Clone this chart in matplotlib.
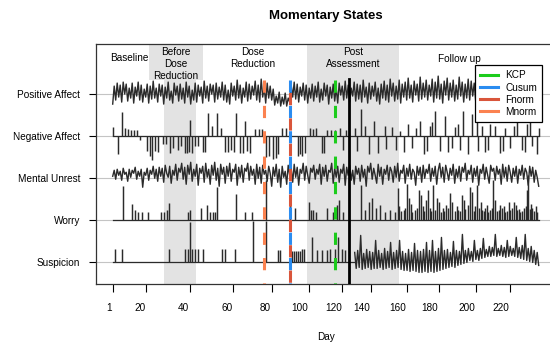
import numpy as np
import matplotlib.pyplot as plt
from matplotlib.lines import Line2D
from matplotlib.patches import Rectangle

plt.rcParams['font.family'] = ['Liberation Sans', 'DejaVu Sans']

##################################################################################################
#                    DATA
##################################################################################################

row_names = ['Positive Affect', 'Negative Affect', 'Mental Unrest', 'Worry', 'Suspicion']
row_pos = [5, 4, 3, 2, 1]

# x axis is the observation number; ticks mark the first observation of some days
day_labels = ['1', '20', '40', '60', '80', '100', '120', '140', '160', '180', '200', '220']
day_tick_obs = [1, 34.6, 78, 121.3, 160, 197, 230.6, 259.3, 295, 327, 364.6, 398.6]
day_label_obs = [-2.4, 28.3, 71.6, 115, 153.3, 188.3, 221.6, 250, 285.6, 317.6, 355.6, 389]
n_obs = 427

phase_names = ['Baseline', 'Before\nDose\nReduction', 'Dose\nReduction', 'Post\nAssessment', 'Follow up']
phase_obs = [17.3, 64.3, 141.3, 241.3, 347.3]
before_dose = (52.3, 84.3)
post_assessment = (195.6, 287.3)

method_names = ['KCP', 'Cusum', 'Fnorm', 'Mnorm']
method_obs = [223.3, 178.3, 178.3, 152.3]
method_colors = ['#1ccc1c', '#2a8cf0', '#d9553b', '#fb8250']
true_change_obs = 237.6

# dense series, deviation from the row line
positive_affect = [
    -10, 8, -6, 11, -3, 9, -8, 12, 0, 10, -7, 6, -4, 11, -9,
    7, -2, 12, -6, 9, -8, 5, -3, 10, -9, 8, -5, 13, -4, 6,
    -8, 10, -2, 9, -10, 7, -4, 12, -6, 3, -9, 11, -1, 8, -7,
    10, -5, 6, -9, 12, -3, 8, -10, 4, -6, 11, -8, 9, -2, 7,
    -9, 13, -4, 8, -7, 10, 0, 9, -8, 11, -5, 7, -3, 12, -6,
    9, -8, 4, -10, 11, -2, 8, -6, 14, -4, 9, -9, 6, -3, 12,
    -7, 10, -5, 8, -1, 13, -6, 9, -8, 15, -3, 7, -9, 11, -4,
    8, -6, 5, -11, -2, -9, 2, -12, -3, -10, 1, -12, -4, -8, 9,
    -3, 12, -5, 10, -8, 7, -2, 11, -6, 9, -9, 6, -4, 10, -7,
    8, -3, 12, -8, 5, -6, 11, -2, 9, -10, 7, -4, 10, -7, 6,
    -9, 11, -1, 8, -6, 13, -4, 9, -8, 6, -2, 12, -7, 10, -5,
    9, -8, 14, -3, 7, -9, 11, -5, 8, -2, 12, -7, 6, -10, 10,
    -4, 13, -6, 9, -8, 15, -2, 11, -7, 8, -5, 14, -9, 10, -3,
    12, -6, 16, -4, 9, -8, 13, -1, 10, -7, 17, -5, 11, -3, 14,
    -6, 9, -2, 15, -8, 12, -4, 18, -5, 10, -9, 13, -1, 16, -6,
    11, -3, 14, -7, 9, -5, 17, -2, 12, -8, 10, -4, 15, -6, 13,
    -2, 11, -7, 16, -4, 9, -8, 13, -3, 15, -6, 10, -1, 14, -5,
    12, -7, 9, -3, 15, -8, 11, -2, 13, -6, 10, -4, 16, -9, 8,
    -3, 12, -6, 14, -1, 10, -8, 13, -4, 11, -7, 9, -2, 12, -5]

mental_unrest = [
    2, 8, -1, 9, 3, 7, -2, 10, 4, 6, -3, 9, 1, 8, 5,
    11, -1, 7, 2, 9, -9, 6, 3, 10, -2, 8, 4, 12, 0, 9,
    -3, 11, 2, 10, -4, 13, 5, 1, 12, -5, 8, 3, 14, -2, 10,
    6, 15, -1, 11, -6, 13, 4, 16, -3, 9, 2, 14, -7, 10, 5,
    12, -4, 15, 1, 9, -6, 13, 3, 16, -2, 10, -8, 14, 4, 11,
    -5, 12, 2, 15, -3, 9, 6, 14, -7, 11, 1, 13, -4, 10, 7,
    15, -2, 12, 3, 9, -6, 14, 0, 11, -5, 13, 4, 8, -3, 12,
    5, -8, 11, 2, 14, -4, 9, -9, 12, 1, 7, -6, 13, 3, 10,
    -4, 14, 1, 11, -7, 9, 5, 15, -2, 12, 3, -5, 10, 6, 13,
    -1, 9, 4, 14, -6, 11, 2, 13, -3, 8, 6, 15, -5, 10, 1,
    12, -4, 9, 5, 14, -7, 11, 3, 13, -2, 8, -6, 12, 4, 10,
    -3, 13, 1, 9, -8, 12, 6, 15, -1, 10, 3, -5, 14, 2, 11,
    -6, 9, 4, 13, -2, 11, 7, -4, 12, 1, 15, -3, 8, 5, 13,
    -5, 10, 2, 14, -1, 9, 6, -7, 12, 3, 11, -4, 13, 0, 9,
    5, 14, -3, 10, 2, 12, -6, 8, 15, 1, 11, -4, 13, 6, -2,
    10, 3, 14, -5, 9, 1, 12, -3, 11, 6, 15, -2, 8, 4, 13,
    -4, 10, 2, 12, -7, 9, 5, 14, -1, 11, 3, -5, 13, 7, 10,
    -2, 12, 4, 9, -6, 14, 1, 11, -3, 13, 6, -4, 10, 2, 12,
    -5, 9, 3, 13, -1, 10, 6, -7, 12, 2, 11, -4, 8, 1, -8]

# sparse series: (observation, deviation)
negative_affect = [
    (1, 9), (6, -18), (10, 24), (13, 8), (16, 7), (19, 6), (22, 6), (25, 6), (28, -4),
    (35, -15), (38, -20), (40, -24), (43, -15), (46, -16), (51, -8), (54, -8),
    (58, -17), (61, -12), (66, -14), (69, -10), (73, -17), (75, -17), (77, -16), (78, 16),
    (80, -17), (83, -10), (86, -10), (91, -16), (93, -16), (96, 23), (100, 10), (105, 23),
    (109, 8), (113, -16), (116, -16), (119, -14), (122, -16), (124, 23), (128, -17),
    (131, -17), (133, 15), (135, -15), (138, -17), (143, 7), (147, 7), (150, 7), (154, -21),
    (157, -20), (161, -23), (164, -22), (166, -18), (170, 8), (174, 8), (186, -20),
    (188, -18), (190, -20), (193, -17), (198, 8), (201, 7), (204, 8), (210, -17), (212, -17),
    (215, 6), (219, 6), (223, 6), (228, 8), (231, -14), (234, 6), (243, 8), (245, -15),
    (249, 27), (253, 10), (257, -18), (262, 15), (266, -17), (273, 10), (274, -13), (280, 9),
    (284, -14), (288, 5), (292, -16), (296, 12), (300, -12), (304, 8), (308, 15), (312, -18),
    (315, -15), (318, 10), (320, 14), (323, 25), (328, -15), (333, 20), (336, -16), (340, -12),
    (343, 9), (346, 12), (348, -14), (351, 25), (356, -18), (360, 22), (365, 15), (366, -15),
    (370, 10), (373, -16), (376, -14), (378, 12), (383, 10), (388, -17), (391, -15), (393, 8),
    (398, -12), (402, 10), (405, 22), (410, -14), (413, -16), (415, 12), (418, 15), (420, -10),
    (425, -18), (427, 8)]

worry = [
    (11, 34), (20, 16), (23, 10), (26, 8), (30, 8), (36, 8), (49, 8), (52, 8), (55, 10),
    (57, 17), (76, 8), (78, 10), (89, 12), (95, 15), (98, 8), (101, 8), (103, 8), (105, 33),
    (124, 26), (133, 8), (140, 8), (154, 40), (178, 15), (183, 12), (197, 18), (199, 10),
    (201, 10), (204, 8), (215, 12), (221, 8), (225, 15), (227, 20), (231, 8), (249, 35),
    (253, 10), (257, 18), (260, 22), (264, 12), (268, 15), (273, 8), (278, 10), (283, 8),
    (286, 32), (287, 14), (289, 9), (292, 10), (293, 12), (295, 36), (297, 22), (299, 16),
    (300, 8), (303, 10), (305, 12), (307, 30), (309, 25), (311, 14), (312, 9), (314, 20),
    (316, 30), (318, 12), (319, 9), (321, 35), (323, 10), (325, 22), (327, 18), (329, 8),
    (331, 12), (332, 9), (334, 15), (336, 12), (338, 27), (340, 18), (343, 9), (345, 14),
    (346, 10), (348, 9), (350, 25), (352, 20), (353, 11), (356, 15), (358, 33), (360, 28),
    (362, 9), (363, 14), (365, 35), (367, 12), (369, 18), (370, 10), (372, 9), (373, 12),
    (375, 15), (376, 8), (378, 10), (380, 12), (381, 40), (383, 20), (385, 9), (387, 10),
    (388, 15), (390, 12), (392, 14), (393, 8), (395, 9), (397, 18), (398, 10), (400, 12),
    (402, 18), (404, 15), (405, 10), (407, 11), (408, 8), (410, 9), (412, 12), (414, 14),
    (415, 30), (416, 45), (418, 11), (419, 16), (420, 12), (422, 9), (424, 14), (425, 8)]

suspicion = [
    (3, 13), (10, 13), (57, 13), (73, 13), (76, 13), (78, 40), (80, 13), (83, 13), (86, 13),
    (91, 13), (110, 13), (113, 13), (123, 13), (141, 41), (154, 41), (166, 12), (168, 12),
    (180, 11), (182, 11), (184, 11), (186, 11), (188, 11), (190, 13), (192, 13), (200, 25),
    (205, 12), (210, 12), (215, 12), (218, 13), (223, 13), (226, 25), (230, 13), (233, 12)]

# dense stretch of suspicion, obs 243 to 427
suspicion_late = [
    10, -6, 12, -5, 27, -7, 9, -6, 13, -5, 11, -7, 10, -6, 22,
    -6, 12, -5, 9, -7, 14, -6, 11, -5, 20, -7, 10, -6, 12, -5,
    22, -7, 11, -8, 9, -8, 13, -9, 10, -8, 19, -9, 12, -10, 11,
    -10, 13, -9, 20, -10, 12, -9, 22, -10, 11, -9, 14, -8, 25, -7,
    12, -6, 13, -5, 10, -4, 21, -5, 12, -3, 11, -2, 28, -1, 12,
    0, 14, 2, 11, 1, 22, 3, 12, 2, 14, 4, 24, 5, 13, 6,
    16, 6, 15, 7, 28, 6, 14, 7, 17, 6, 15, 5, 22, 6, 16,
    7, 14, 6, 25, 5, 15, 4, 17, 3, 28, 2, 14, 1, 16, 0,
    12, -2, 10, -3]
suspicion_late_start = 243

##################################################################################################
#                    PLOT
##################################################################################################

SCALE = 1 / 42.1          # deviation units -> row units
LINE_COL = '#2b2b2b'
SHADE = '#e3e3e3'

fig = plt.figure(figsize=(5.5, 3.46), dpi=100)
ax = fig.add_axes([0.1740, 0.1783, 0.8369, 0.6945])
ax.set_xlim(-16, 444.3)
ax.set_ylim(0.48, 6.19)

# phases
ax.axvspan(*before_dose, color=SHADE, lw=0, zorder=0)
ax.axvspan(*post_assessment, color=SHADE, lw=0, zorder=0)
ax.add_patch(Rectangle((0.1164, 0.850), 0.1174, 0.150, transform=ax.transAxes,
                       facecolor=SHADE, edgecolor='none', zorder=0.5))
for name, xo in zip(phase_names, phase_obs):
    y = 0.9417
    if name.startswith('Before'):
        y = 0.918
    elif name == 'Follow up':
        y = 0.9376
    ax.text(xo, y, name, transform=ax.get_xaxis_transform(), ha='center', va='center',
            fontsize=7.2, linespacing=1.25, zorder=3)

for r in row_pos:
    ax.axhline(r, color='#c4c4c4', lw=0.8, zorder=1)

# dense rows
for vals, r in [(positive_affect, 5), (mental_unrest, 3)]:
    x = np.linspace(1, n_obs, len(vals))
    ax.plot(x, r + np.array(vals) * SCALE, color=LINE_COL, lw=1.0, zorder=2)

# sparse rows
for spikes, r, end in [(negative_affect, 4, n_obs), (worry, 2, n_obs),
                       (suspicion, 1, suspicion_late_start)]:
    ax.plot([1, end], [r, r], color=LINE_COL, lw=0.9, zorder=2)
    xs = np.array([s[0] for s in spikes])
    vs = np.array([s[1] for s in spikes])
    ax.vlines(xs, r, r + vs * SCALE, color=LINE_COL, lw=1.05, zorder=2)
late_x = np.linspace(suspicion_late_start, n_obs, len(suspicion_late))
ax.plot(late_x, 1 + np.array(suspicion_late) * SCALE, color=LINE_COL, lw=1.0, zorder=2)

# change points
top = 5.333
for name, xo, col in zip(method_names, method_obs, method_colors):
    off = 4.2 if name == 'Fnorm' else 0
    ax.plot([xo, xo], [top, 0.48], color=col, lw=2.2, linestyle=(off, (4, 4.3)),
            solid_capstyle='butt', zorder=4)
ax.plot([true_change_obs, true_change_obs], [5.356, 0.48], color='black', lw=2.0, zorder=4)

handles = [Line2D([], [], color=c, lw=2.2) for c in method_colors]
leg = ax.legend(handles, method_names, loc='upper right', bbox_to_anchor=(0.9696, 0.9114),
                borderaxespad=0, fontsize=7.2, handlelength=1.77, handletextpad=0.73,
                labelspacing=0.22, borderpad=0.5, fancybox=False, framealpha=1,
                edgecolor='black')
leg.get_frame().set_linewidth(0.9)
leg.set_zorder(5)

# axes
ax.set_yticks(row_pos, row_names, fontsize=7.2)
ax.set_xticks(day_tick_obs)
ax.tick_params(axis='both', direction='out', length=5.4, width=0.8)
ax.tick_params(axis='y', pad=5.9)
ax.tick_params(axis='x', labelbottom=False)
for lab, xo in zip(day_labels, day_label_obs):
    ax.text(xo, -0.0986, lab, transform=ax.get_xaxis_transform(), ha='center', va='center',
            fontsize=7.2)
for s in ax.spines.values():
    s.set_linewidth(0.9)
    s.set_color('#333333')

fig.text(326 / 550, 1 - 15.8 / 346, 'Momentary States', ha='center', va='center',
         fontsize=9.5, fontweight='bold')
fig.text(326 / 550, 1 - 336.7 / 346, 'Day', ha='center', va='center', fontsize=7.2)

fig.savefig('out.png', dpi=100)
